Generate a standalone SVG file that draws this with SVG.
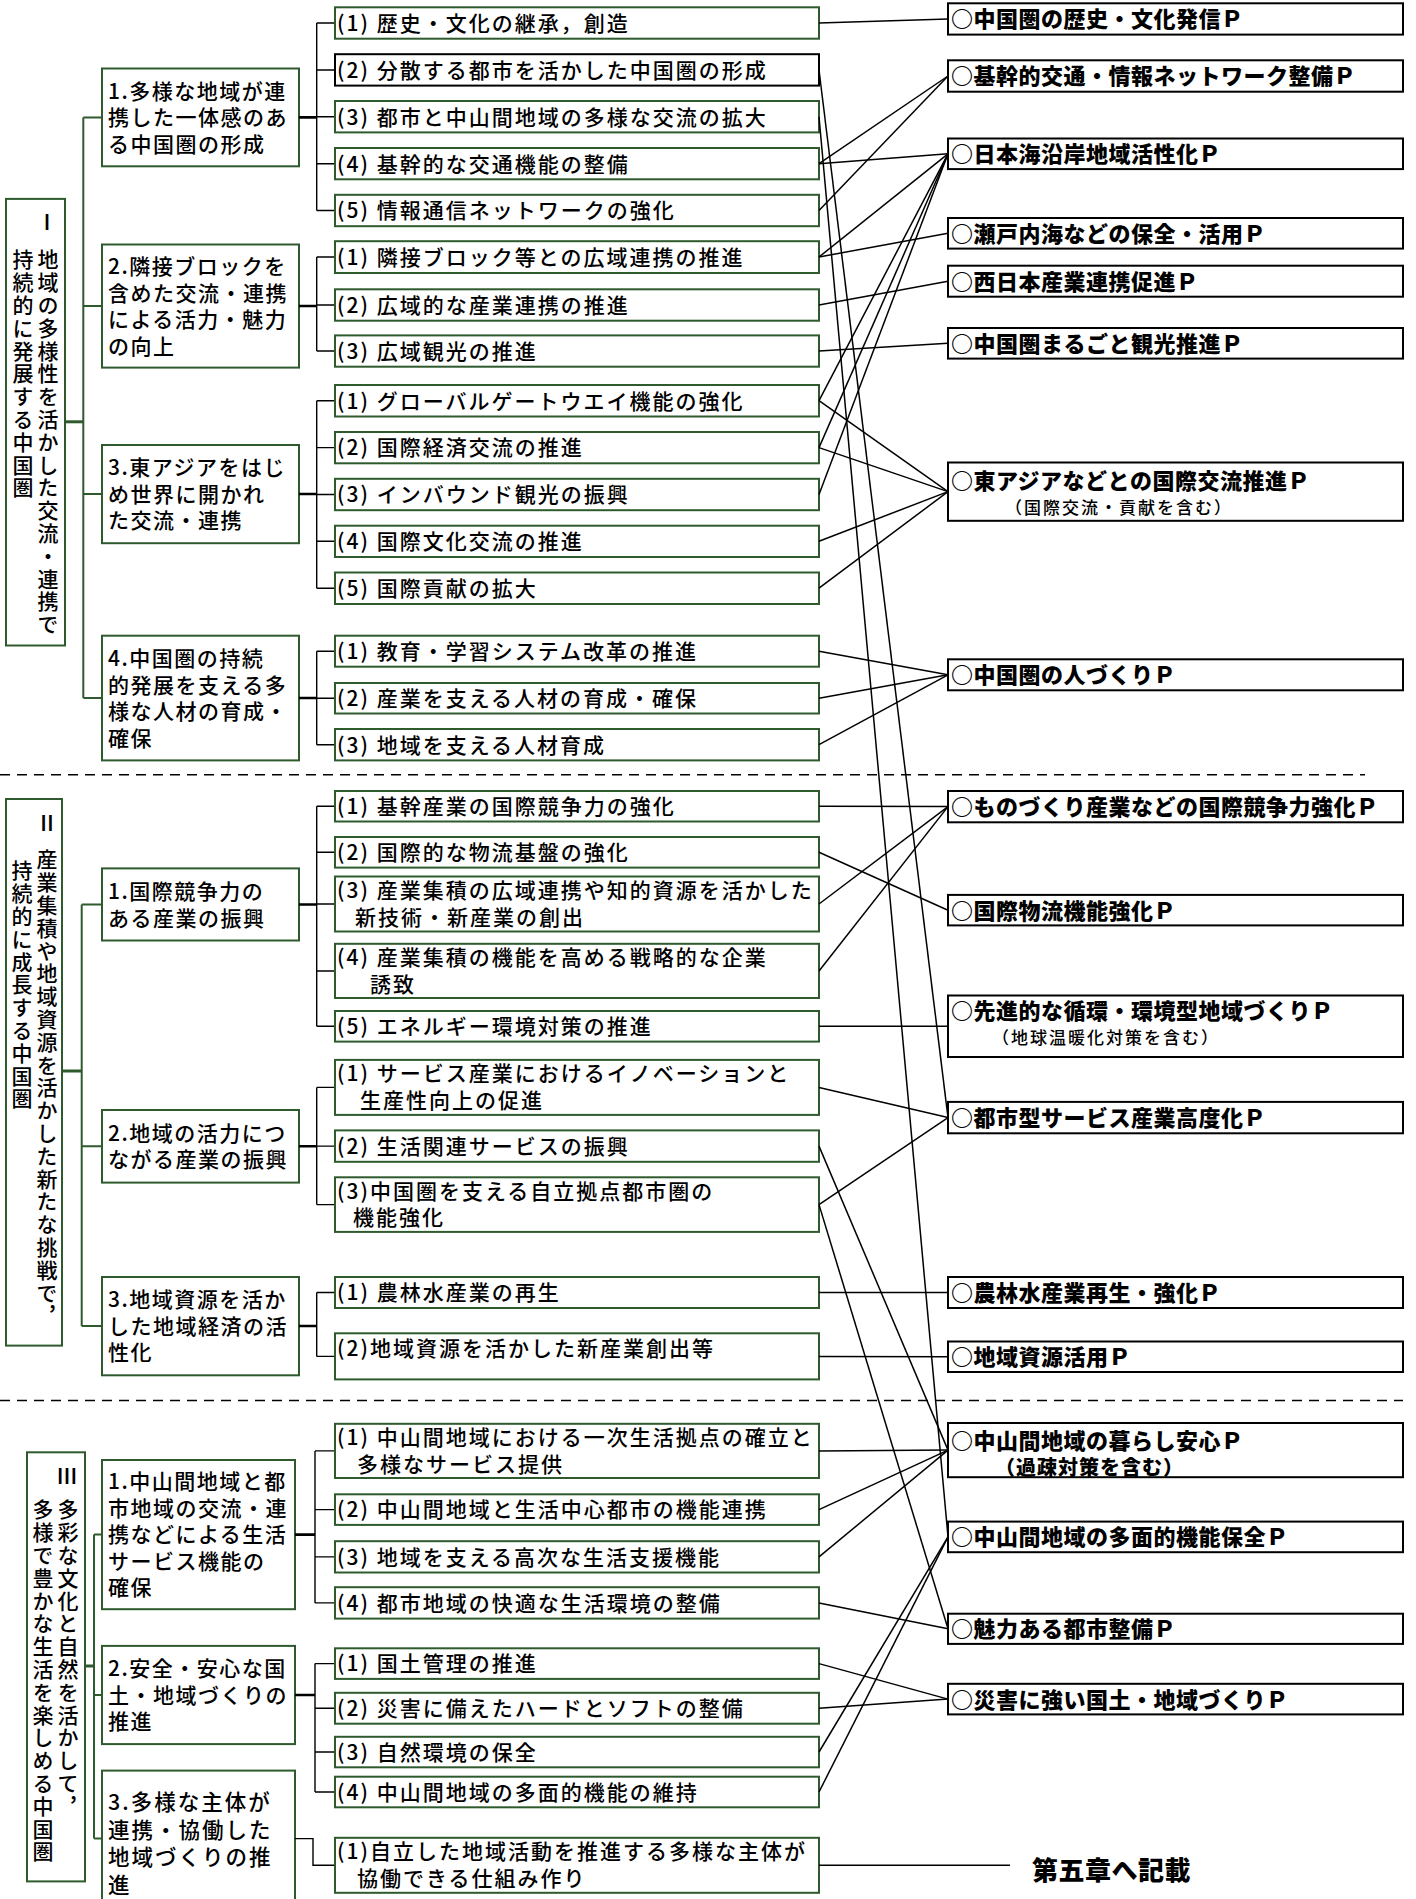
<svg xmlns="http://www.w3.org/2000/svg" width="1416" height="1899" viewBox="0 0 1416 1899">
<style>
text{font-family:"Noto Sans CJK JP","Noto Sans CJK SC",sans-serif;fill:#000;font-weight:500}
.b1 rect,.b2 rect,.b3 rect{fill:#fff;stroke:#2e5a2e;stroke-width:2}
.pb rect{fill:#fff;stroke:#000;stroke-width:2}
.t3{font-size:21px;letter-spacing:2px}
.t2{font-size:21px;letter-spacing:1.5px}
.t2b{font-size:21.5px;letter-spacing:2px}
.tv{font-size:21px;letter-spacing:1.8px;writing-mode:vertical-rl}
.rn{font-size:22px;text-anchor:middle;font-family:"Liberation Serif","Noto Sans CJK JP",serif}
.tp{font-size:22px;font-weight:900;letter-spacing:0.5px}
.ts{font-size:17px;letter-spacing:2px}
.tsb{font-size:20px;font-weight:900;letter-spacing:1px}
.c line{stroke:#000;stroke-width:1.5;fill:none}
.tree path{stroke:#000;stroke-width:1.4;fill:none}
.tree .thick{stroke-width:2.6}
.gtree path{stroke:#2e5a2e;stroke-width:2;fill:none}
.gtree .thick{stroke-width:3}
.dash{stroke:#000;stroke-width:1.5;stroke-dasharray:10 7}
</style>

<!-- dashed separators -->
<line class="dash" x1="0" y1="774.7" x2="1365" y2="774.7"/>
<line class="dash" x1="0" y1="1400.6" x2="1403" y2="1400.6"/>

<!-- level 1 -->
<g id="L1" class="b1">
<rect x="6" y="198.9" width="59" height="446.6"/>
<text class="rn" x="47" y="230">Ⅰ</text>
<text class="tv" x="48" y="249">地域の多様性を活かした交流・連携で</text>
<text class="tv" x="23" y="249">持続的に発展する中国圏</text>
</g>
<g id="L2" class="b1">
<rect x="6" y="799" width="56" height="546.6"/>
<text class="rn" x="47" y="831">Ⅱ</text>
<text class="tv" x="47" y="849">産業集積や地域資源を活かした新たな挑戦で，</text>
<text class="tv" x="22" y="860">持続的に成長する中国圏</text>
</g>
<g id="L3" class="b1">
<rect x="27" y="1452.3" width="58" height="429.1"/>
<text class="rn" x="67" y="1484">Ⅲ</text>
<text class="tv" x="68" y="1499">多彩な文化と自然を活かして，</text>
<text class="tv" x="43" y="1499">多様で豊かな生活を楽しめる中国圏</text>
</g>

<!-- green tree connectors -->
<g id="tree-green" class="gtree">
<path class="thick" d="M65 421.8H83.3"/>
<path d="M83.3 117.4V698M83.3 117.4H102M83.3 306H102M83.3 494H102M83.3 698H102"/>
<path class="thick" d="M62 1071H81.7"/>
<path d="M81.7 904.5V1326M81.7 904.5H102M81.7 1146.3H102M81.7 1326H102"/>
<path class="thick" d="M85 1666H94"/>
<path d="M94 1534.6V1838.6M94 1534.6H102M94 1695H102M94 1838.6H102"/>
</g>

<!-- level 2 -->
<g id="S1-1" class="b2"><rect x="102" y="68.5" width="197" height="97.8"/>
<text class="t2" x="108" y="98.8">1.多様な地域が連</text><text class="t2" x="108" y="125.2">携した一体感のあ</text><text class="t2" x="108" y="151.8">る中国圏の形成</text></g>
<g id="S1-2" class="b2"><rect x="102" y="244.5" width="197" height="123.1"/>
<text class="t2" x="108" y="274">2.隣接ブロックを</text><text class="t2" x="108" y="300.5">含めた交流・連携</text><text class="t2" x="108" y="327">による活力・魅力</text><text class="t2" x="108" y="353.5">の向上</text></g>
<g id="S1-3" class="b2"><rect x="102" y="445" width="197" height="98.2"/>
<text class="t2" x="108" y="475.3">3.東アジアをはじ</text><text class="t2" x="108" y="501.8">め世界に開かれ</text><text class="t2" x="108" y="528.3">た交流・連携</text></g>
<g id="S1-4" class="b2"><rect x="102" y="635.7" width="197" height="124.7"/>
<text class="t2" x="108" y="666.1">4.中国圏の持続</text><text class="t2" x="108" y="692.6">的発展を支える多</text><text class="t2" x="108" y="719.1">様な人材の育成・</text><text class="t2" x="108" y="745.6">確保</text></g>
<g id="S2-1" class="b2"><rect x="102" y="868.4" width="197" height="72.1"/>
<text class="t2" x="108" y="899">1.国際競争力の</text><text class="t2" x="108" y="925.5">ある産業の振興</text></g>
<g id="S2-2" class="b2"><rect x="102" y="1110" width="197" height="72.6"/>
<text class="t2" x="108" y="1140.8">2.地域の活力につ</text><text class="t2" x="108" y="1167.4">ながる産業の振興</text></g>
<g id="S2-3" class="b2"><rect x="102" y="1277" width="197" height="98.3"/>
<text class="t2" x="108" y="1307.3">3.地域資源を活か</text><text class="t2" x="108" y="1333.8">した地域経済の活</text><text class="t2" x="108" y="1360.3">性化</text></g>
<g id="S3-1" class="b2"><rect x="102" y="1460" width="193" height="149.2"/>
<text class="t2" x="108" y="1489.4">1.中山間地域と都</text><text class="t2" x="108" y="1515.9">市地域の交流・連</text><text class="t2" x="108" y="1542.4">携などによる生活</text><text class="t2" x="108" y="1568.9">サービス機能の</text><text class="t2" x="108" y="1595.4">確保</text></g>
<g id="S3-2" class="b2"><rect x="102" y="1645.9" width="193" height="98.2"/>
<text class="t2" x="108" y="1676.3">2.安全・安心な国</text><text class="t2" x="108" y="1702.8">土・地域づくりの</text><text class="t2" x="108" y="1729.3">推進</text></g>
<g id="S3-3" class="b2"><rect x="102" y="1770.6" width="193" height="140"/>
<text class="t2b" x="108" y="1810">3.多様な主体が</text><text class="t2b" x="108" y="1837.5">連携・協働した</text><text class="t2b" x="108" y="1865">地域づくりの推</text><text class="t2b" x="108" y="1892.5">進</text></g>

<!-- black tree connectors level2 -> level3 -->
<g id="tree-black" class="tree">
<path class="thick" d="M299 117.4H316.7M299 306H316.7M299 494H316.7M299 698H316.7M299 904.5H316.7M299 1146.3H316.7M299 1326H316.7M295 1534.6H315M295 1695H315"/>
<path d="M316.7 23V210.5M316.7 23H335M316.7 70H335M316.7 116.7H335M316.7 163.7H335M316.7 210.5H335"/>
<path d="M316.7 257V351M316.7 257H335M316.7 305H335M316.7 351H335"/>
<path d="M316.7 400.7V588.2M316.7 400.7H335M316.7 447.6H335M316.7 494.5H335M316.7 541.3H335M316.7 588.2H335"/>
<path d="M316.7 651.2V744.7M316.7 651.2H335M316.7 698.3H335M316.7 744.7H335"/>
<path d="M316.7 806.3V1026.3M316.7 806.3H335M316.7 852.3H335M316.7 904H335M316.7 971H335M316.7 1026.3H335"/>
<path d="M316.7 1087.4V1204.6M316.7 1087.4H335M316.7 1146.1H335M316.7 1204.6H335"/>
<path d="M316.7 1292.5V1356.4M316.7 1292.5H335M316.7 1356.4H335"/>
<path d="M315 1450.9V1602.9M315 1450.9H335M315 1509.6H335M315 1556.9H335M315 1602.9H335"/>
<path d="M315 1663.6V1792M315 1663.6H335M315 1708.3H335M315 1752H335M315 1792H335"/>
<path d="M295 1838.6H313V1865.3H335"/>
</g>

<!-- level 3 -->
<g class="b3">
<g id="a1"><rect x="335" y="7.3" width="484" height="31.4"/><text class="t3" x="337" y="30.8">(1) 歴史・文化の継承，創造</text></g>
<g id="a2"><rect x="335" y="54.2" width="484" height="31.4" style="stroke:#000"/><text class="t3" x="337" y="77.8">(2) 分散する都市を活かした中国圏の形成</text></g>
<g id="a3"><rect x="335" y="101" width="484" height="31.4"/><text class="t3" x="337" y="124.5">(3) 都市と中山間地域の多様な交流の拡大</text></g>
<g id="a4"><rect x="335" y="148" width="484" height="31.3"/><text class="t3" x="337" y="171.5">(4) 基幹的な交通機能の整備</text></g>
<g id="a5"><rect x="335" y="194.8" width="484" height="31.4"/><text class="t3" x="337" y="218.3">(5) 情報通信ネットワークの強化</text></g>
<g id="b1"><rect x="335" y="241.2" width="484" height="31.8"/><text class="t3" x="337" y="264.8">(1) 隣接ブロック等との広域連携の推進</text></g>
<g id="b2"><rect x="335" y="289.3" width="484" height="31.4"/><text class="t3" x="337" y="312.8">(2) 広域的な産業連携の推進</text></g>
<g id="b3"><rect x="335" y="335.4" width="484" height="31.3"/><text class="t3" x="337" y="358.8">(3) 広域観光の推進</text></g>
<g id="c1"><rect x="335" y="385" width="484" height="31.5"/><text class="t3" x="337" y="408.5">(1) グローバルゲートウエイ機能の強化</text></g>
<g id="c2"><rect x="335" y="432" width="484" height="31.3"/><text class="t3" x="337" y="455.4">(2) 国際経済交流の推進</text></g>
<g id="c3"><rect x="335" y="478.8" width="484" height="31.4"/><text class="t3" x="337" y="502.3">(3) インバウンド観光の振興</text></g>
<g id="c4"><rect x="335" y="525.7" width="484" height="31.3"/><text class="t3" x="337" y="549.1">(4) 国際文化交流の推進</text></g>
<g id="c5"><rect x="335" y="572.5" width="484" height="31.5"/><text class="t3" x="337" y="596">(5) 国際貢献の拡大</text></g>
<g id="d1"><rect x="335" y="635.7" width="484" height="31"/><text class="t3" x="337" y="659">(1) 教育・学習システム改革の推進</text></g>
<g id="d2"><rect x="335" y="683" width="484" height="30.5"/><text class="t3" x="337" y="706.1">(2) 産業を支える人材の育成・確保</text></g>
<g id="d3"><rect x="335" y="729" width="484" height="31.4"/><text class="t3" x="337" y="752.5">(3) 地域を支える人材育成</text></g>
<g id="e1"><rect x="335" y="791" width="484" height="30.5"/><text class="t3" x="337" y="814.1">(1) 基幹産業の国際競争力の強化</text></g>
<g id="e2"><rect x="335" y="837" width="484" height="30.6"/><text class="t3" x="337" y="860.1">(2) 国際的な物流基盤の強化</text></g>
<g id="e3"><rect x="335" y="876.5" width="484" height="55"/><text class="t3" x="337" y="897.8">(3) 産業集積の広域連携や知的資源を活かした</text><text class="t3" x="355" y="924.6">新技術・新産業の創出</text></g>
<g id="e4"><rect x="335" y="943.8" width="484" height="54.2"/><text class="t3" x="337" y="965.1">(4) 産業集積の機能を高める戦略的な企業</text><text class="t3" x="370" y="991.9">誘致</text></g>
<g id="e5"><rect x="335" y="1011" width="484" height="30.6"/><text class="t3" x="337" y="1034.1">(5) エネルギー環境対策の推進</text></g>
<g id="f1"><rect x="335" y="1059.9" width="484" height="55"/><text class="t3" x="337" y="1081.2">(1) サービス産業におけるイノベーションと</text><text class="t3" x="360" y="1108">生産性向上の促進</text></g>
<g id="f2"><rect x="335" y="1130.4" width="484" height="31.4"/><text class="t3" x="337" y="1153.9">(2) 生活関連サービスの振興</text></g>
<g id="f3"><rect x="335" y="1177.3" width="484" height="54.6"/><text class="t3" x="337" y="1198.6">(3)中国圏を支える自立拠点都市圏の</text><text class="t3" x="353" y="1225.4">機能強化</text></g>
<g id="g1"><rect x="335" y="1277" width="484" height="31"/><text class="t3" x="337" y="1300.3">(1) 農林水産業の再生</text></g>
<g id="g2"><rect x="335" y="1333.3" width="484" height="46.1"/><text class="t3" x="337" y="1355.6">(2)地域資源を活かした新産業創出等</text></g>
<g id="h1"><rect x="335" y="1423.8" width="484" height="54.2"/><text class="t3" x="337" y="1445.1">(1) 中山間地域における一次生活拠点の確立と</text><text class="t3" x="357" y="1471.9">多様なサービス提供</text></g>
<g id="h2"><rect x="335" y="1494.3" width="484" height="30.6"/><text class="t3" x="337" y="1517.4">(2) 中山間地域と生活中心都市の機能連携</text></g>
<g id="h3"><rect x="335" y="1541.2" width="484" height="31.3"/><text class="t3" x="337" y="1564.7">(3) 地域を支える高次な生活支援機能</text></g>
<g id="h4"><rect x="335" y="1587.2" width="484" height="31.4"/><text class="t3" x="337" y="1610.7">(4) 都市地域の快適な生活環境の整備</text></g>
<g id="i1"><rect x="335" y="1648.3" width="484" height="30.6"/><text class="t3" x="337" y="1671.4">(1) 国土管理の推進</text></g>
<g id="i2"><rect x="335" y="1692.8" width="484" height="30.9"/><text class="t3" x="337" y="1716.1">(2) 災害に備えたハードとソフトの整備</text></g>
<g id="i3"><rect x="335" y="1736.8" width="484" height="30.5"/><text class="t3" x="337" y="1759.8">(3) 自然環境の保全</text></g>
<g id="i4"><rect x="335" y="1776.7" width="484" height="30.6"/><text class="t3" x="337" y="1799.8">(4) 中山間地域の多面的機能の維持</text></g>
<g id="j1"><rect x="335" y="1837.8" width="484" height="55"/><text class="t3" x="337" y="1859.1">(1)自立した地域活動を推進する多様な主体が</text><text class="t3" x="357" y="1885.9">協働できる仕組み作り</text></g>
</g>

<!-- project boxes -->
<g class="pb">
<g id="P1"><rect x="948" y="3.3" width="455" height="31.3"/><text class="tp" x="951" y="27.4">○中国圏の歴史・文化発信Ｐ</text></g>
<g id="P2"><rect x="948" y="60.3" width="455" height="31.4"/><text class="tp" x="951" y="84.4">○基幹的交通・情報ネットワーク整備Ｐ</text></g>
<g id="P3"><rect x="948" y="138.5" width="455" height="30.6"/><text class="tp" x="951" y="162.2">○日本海沿岸地域活性化Ｐ</text></g>
<g id="P4"><rect x="948" y="218" width="455" height="30.6"/><text class="tp" x="951" y="241.7">○瀬戸内海などの保全・活用Ｐ</text></g>
<g id="P5"><rect x="948" y="265.7" width="455" height="31"/><text class="tp" x="951" y="289.6">○西日本産業連携促進Ｐ</text></g>
<g id="P6"><rect x="948" y="328" width="455" height="30.6"/><text class="tp" x="951" y="351.7">○中国圏まるごと観光推進Ｐ</text></g>
<g id="P7"><rect x="948" y="462.5" width="455" height="58.3"/><text class="tp" x="951" y="489.4">○東アジアなどとの国際交流推進Ｐ</text><text class="ts" x="1005" y="513.8">（国際交流・貢献を含む）</text></g>
<g id="P8"><rect x="948" y="659.3" width="455" height="31"/><text class="tp" x="951" y="683.2">○中国圏の人づくりＰ</text></g>
<g id="P9"><rect x="948" y="791" width="455" height="31.3"/><text class="tp" x="951" y="815">○ものづくり産業などの国際競争力強化Ｐ</text></g>
<g id="P10"><rect x="948" y="894.9" width="455" height="30.5"/><text class="tp" x="951" y="918.6">○国際物流機能強化Ｐ</text></g>
<g id="P11"><rect x="948" y="995.5" width="455" height="61.5"/><text class="tp" x="951" y="1019.4">○先進的な循環・環境型地域づくりＰ</text><text class="ts" x="992" y="1044">（地球温暖化対策を含む）</text></g>
<g id="P12"><rect x="948" y="1101.9" width="455" height="31.4"/><text class="tp" x="951" y="1126">○都市型サービス産業高度化Ｐ</text></g>
<g id="P13"><rect x="948" y="1277" width="455" height="31"/><text class="tp" x="951" y="1300.9">○農林水産業再生・強化Ｐ</text></g>
<g id="P14"><rect x="948" y="1341.5" width="455" height="30.5"/><text class="tp" x="951" y="1365.2">○地域資源活用Ｐ</text></g>
<g id="P15"><rect x="948" y="1423" width="455" height="54.2"/><text class="tp" x="951" y="1449.4">○中山間地域の暮らし安心Ｐ</text><text class="tsb" x="995" y="1475.4">（過疎対策を含む）</text></g>
<g id="P16"><rect x="948" y="1521.6" width="455" height="30.6"/><text class="tp" x="951" y="1545.3">○中山間地域の多面的機能保全Ｐ</text></g>
<g id="P17"><rect x="948" y="1613.7" width="455" height="30.2"/><text class="tp" x="951" y="1637.2">○魅力ある都市整備Ｐ</text></g>
<g id="P18"><rect x="948" y="1683.8" width="455" height="30.6"/><text class="tp" x="951" y="1707.5">○災害に強い国土・地域づくりＰ</text></g>
</g>

<g id="ch5"><text x="1032" y="1880" style="font-size:26px;font-weight:900;letter-spacing:0.5px">第五章へ記載</text></g>

<!-- connectors -->
<g id="connectors" class="c">
<line x1="819" y1="23" x2="948" y2="19"/>
<line x1="819" y1="70" x2="948" y2="1117.6"/>
<line x1="819" y1="116.7" x2="948" y2="1536.9"/>
<line x1="819" y1="163.7" x2="948" y2="76"/>
<line x1="819" y1="163.7" x2="948" y2="153.8"/>
<line x1="819" y1="210.5" x2="948" y2="76"/>
<line x1="819" y1="257" x2="948" y2="153.8"/>
<line x1="819" y1="257" x2="948" y2="233.3"/>
<line x1="819" y1="305" x2="948" y2="281.2"/>
<line x1="819" y1="351" x2="948" y2="343.3"/>
<line x1="819" y1="400.7" x2="948" y2="153.8"/>
<line x1="819" y1="400.7" x2="948" y2="491.6"/>
<line x1="819" y1="447.6" x2="948" y2="153.8"/>
<line x1="819" y1="447.6" x2="948" y2="491.6"/>
<line x1="819" y1="494.5" x2="948" y2="153.8"/>
<line x1="819" y1="541.3" x2="948" y2="491.6"/>
<line x1="819" y1="588.2" x2="948" y2="491.6"/>
<line x1="819" y1="651.2" x2="948" y2="674.8"/>
<line x1="819" y1="698.3" x2="948" y2="674.8"/>
<line x1="819" y1="744.7" x2="948" y2="674.8"/>
<line x1="819" y1="806.3" x2="948" y2="806.6"/>
<line x1="819" y1="852.3" x2="948" y2="910.2"/>
<line x1="819" y1="904" x2="948" y2="806.6"/>
<line x1="819" y1="971" x2="948" y2="806.6"/>
<line x1="819" y1="1026.3" x2="948" y2="1026.3"/>
<line x1="819" y1="1087.4" x2="948" y2="1117.6"/>
<line x1="819" y1="1146.1" x2="948" y2="1450.1"/>
<line x1="819" y1="1204.6" x2="948" y2="1117.6"/>
<line x1="819" y1="1204.6" x2="948" y2="1628.8"/>
<line x1="819" y1="1292.5" x2="948" y2="1292.5"/>
<line x1="819" y1="1356.4" x2="948" y2="1356.8"/>
<line x1="819" y1="1450.9" x2="948" y2="1450.1"/>
<line x1="819" y1="1509.6" x2="948" y2="1450.1"/>
<line x1="819" y1="1556.9" x2="948" y2="1450.1"/>
<line x1="819" y1="1602.9" x2="948" y2="1628.8"/>
<line x1="819" y1="1663.6" x2="948" y2="1699.1"/>
<line x1="819" y1="1708.3" x2="948" y2="1699.1"/>
<line x1="819" y1="1752" x2="948" y2="1536.9"/>
<line x1="819" y1="1792" x2="948" y2="1536.9"/>
<line x1="819" y1="1865.3" x2="1010" y2="1865.3"/>
</g>
</svg>
